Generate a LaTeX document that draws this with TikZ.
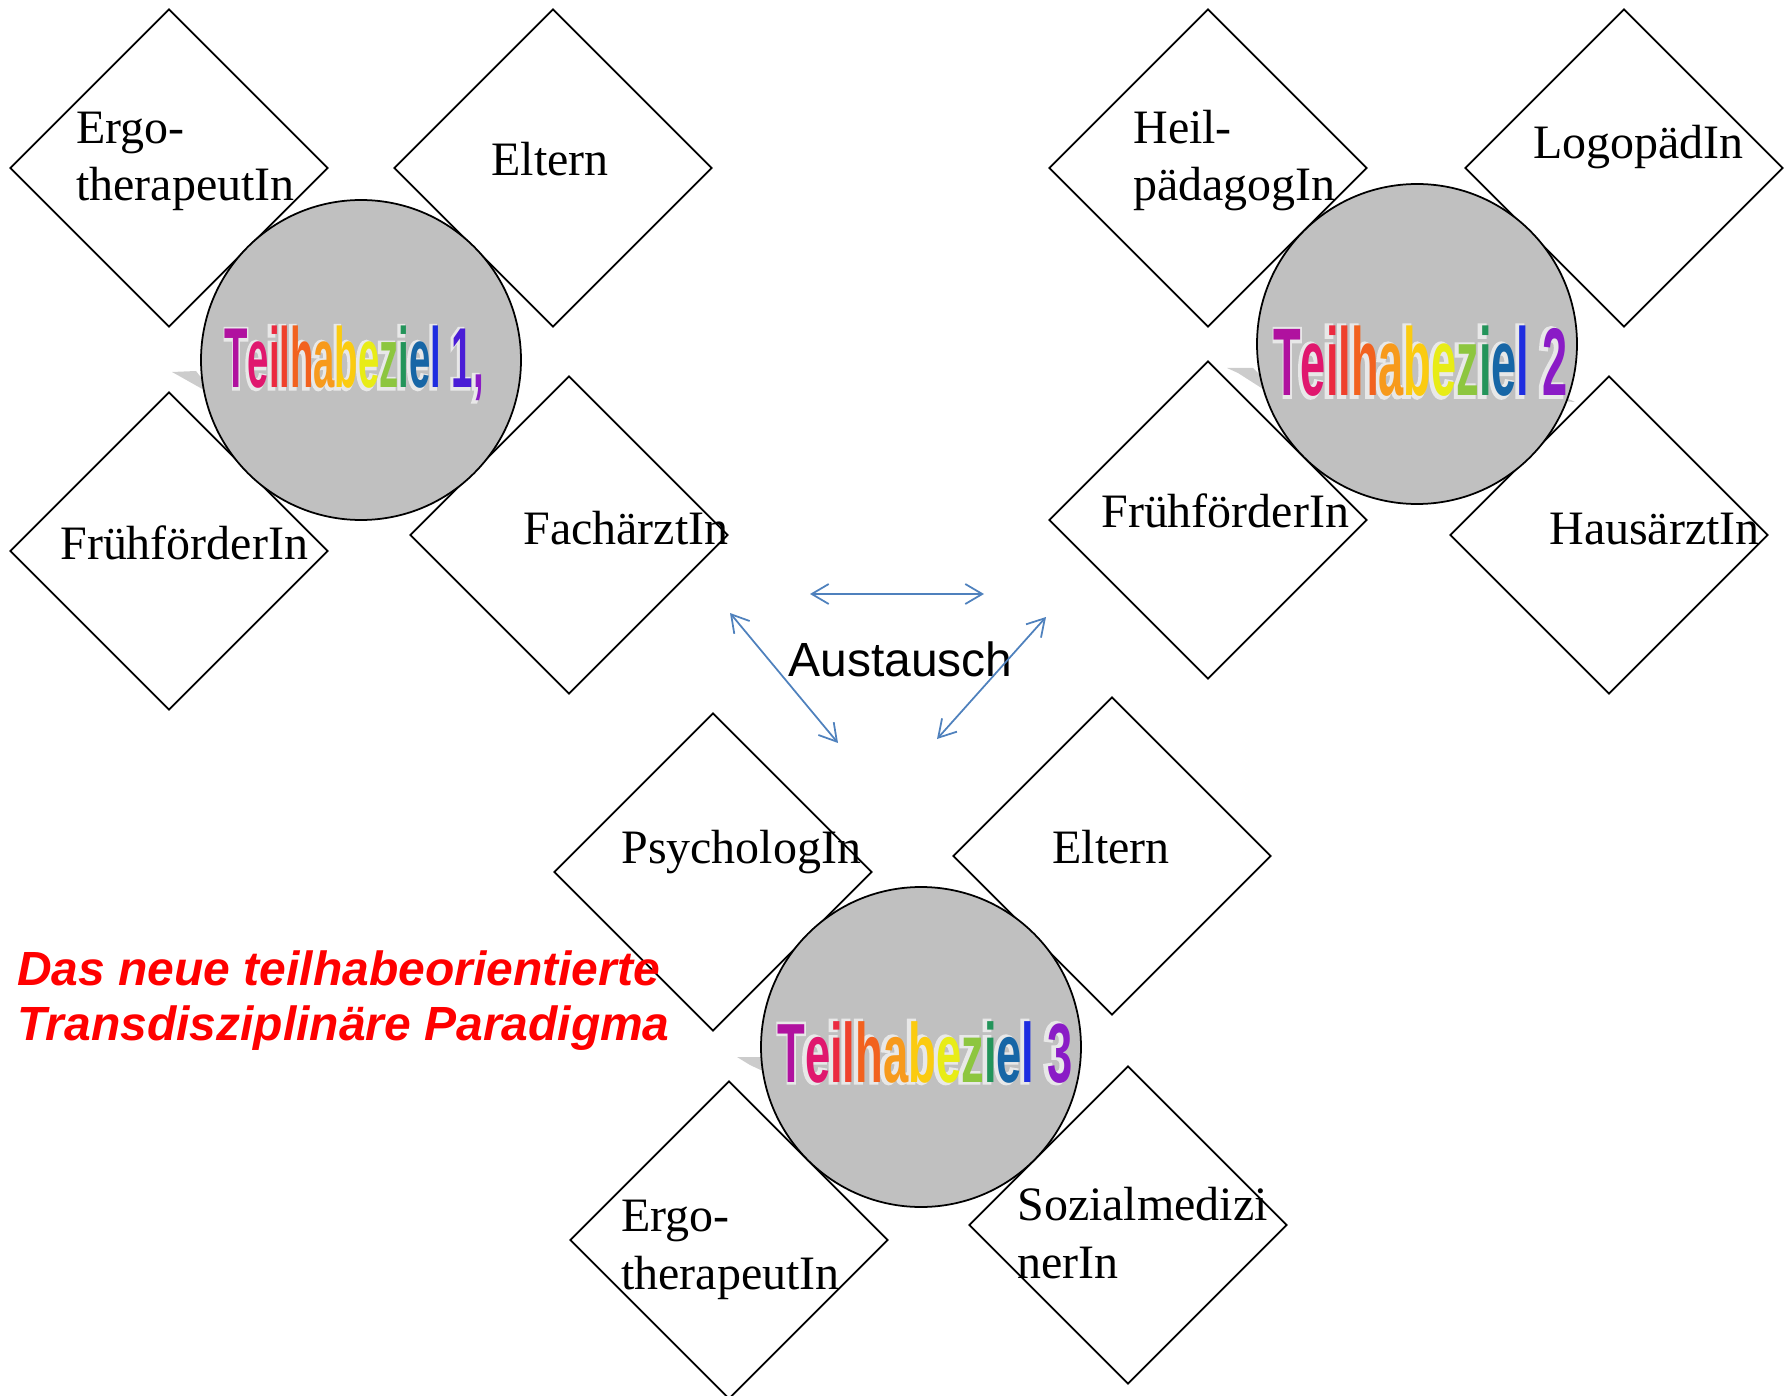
\documentclass[tikz,border=0pt]{standalone}
\usepackage{fontspec}
\setmainfont{Liberation Serif}
\setsansfont{Liberation Sans}
\newfontface\halofont[FakeBold=6]{Liberation Sans Bold}
\usepackage{graphicx}
\usepackage{tikz}
\usetikzlibrary{arrows.meta}
\usetikzlibrary{shapes.geometric}

\definecolor{goalgray}{HTML}{C0C0C0}
\definecolor{tailgray}{HTML}{CCCCCC}
\definecolor{halogray}{HTML}{E8E8E8}
\definecolor{xchblue}{HTML}{4F81BD}
\definecolor{rbA}{HTML}{B0119F}
\definecolor{rbB}{HTML}{E0176E}
\definecolor{rbC}{HTML}{EB2A40}
\definecolor{rbD}{HTML}{EF412C}
\definecolor{rbE}{HTML}{F2621F}
\definecolor{rbF}{HTML}{F79A1C}
\definecolor{rbG}{HTML}{FBCB10}
\definecolor{rbH}{HTML}{E8EC16}
\definecolor{rbI}{HTML}{8DC63F}
\definecolor{rbJ}{HTML}{23945A}
\definecolor{rbK}{HTML}{1766A6}
\definecolor{rbL}{HTML}{1E2DE0}
\definecolor{rbM}{HTML}{4A1DD6}
\definecolor{rbN}{HTML}{8A1BC6}

\newif\ifhalo
\newcommand{\rb}[2]{\ifhalo#2\else\textcolor{#1}{#2}\fi}
\newcommand{\goalword}{\rb{rbA}{T}\rb{rbB}{e}\rb{rbC}{i}\rb{rbD}{l}\rb{rbE}{h}\rb{rbF}{a}%
  \rb{rbG}{b}\rb{rbH}{e}\rb{rbI}{z}\rb{rbJ}{i}\rb{rbK}{e}\rb{rbL}{l}}
% #1 name, #2 base point, #3 size, #4 squeeze, #5 text
\newcommand{\goal}[5]{%
  \node[anchor=base west, inner sep=0pt, text=halogray,
    font=\fontsize{#3}{#3}\halofont]
    at (#2) {\halotrue\scalebox{#4}[1]{#5}};
  \node[anchor=base west, inner sep=0pt,
    font=\fontsize{#3}{#3}\selectfont\sffamily\bfseries]
    (#1) at (#2) {\scalebox{#4}[1]{#5}};
}

\begin{document}
\begin{tikzpicture}
\useasboundingbox (0,0) rectangle (35.7,-27.92);

\tikzstyle{role}=[diamond, draw, line width=1pt, inner sep=0pt,
    minimum width=6.36cm, minimum height=6.36cm]
\tikzstyle{roletext}=[anchor=base west, align=left, inner sep=0pt,
    font=\fontsize{27.3}{33}\selectfont]
\tikzstyle{hub}=[circle, draw, fill=goalgray, line width=1pt,
    minimum size=6.4cm, inner sep=0pt]
\tikzstyle{xch}=[draw=xchblue, line width=1pt, <->,
    >={Straight Barb[length=0.34cm,width=0.4cm]}]

% goal 1
\node[role] (ergoA) at (3.38,-3.36) {};
\node[role] (elternA) at (11.06,-3.36) {};
\node[role] (fruehA) at (3.38,-11.02) {};
\node[role] (fach) at (11.38,-10.70) {};
% goal 2
\node[role] (heil) at (24.16,-3.36) {};
\node[role] (logo) at (32.48,-3.36) {};
\node[role] (fruehB) at (24.16,-10.40) {};
\node[role] (haus) at (32.18,-10.70) {};
% goal 3
\node[role] (psych) at (14.26,-17.44) {};
\node[role] (elternC) at (22.24,-17.12) {};
\node[role] (ergoC) at (14.58,-24.80) {};
\node[role] (sozial) at (22.56,-24.50) {};

% tails
\fill[tailgray] (3.44,-7.44) -- (3.92,-7.42) -- (4.06,-7.60) -- (4.08,-7.80) -- (3.62,-7.54) -- cycle;
\fill[tailgray] (24.54,-7.36) -- (25.06,-7.36) -- (25.24,-7.54) -- (25.26,-7.78) -- (24.76,-7.46) -- cycle;
\fill[tailgray] (31.20,-7.90) -- (31.50,-8.04) -- (31.20,-8.02) -- cycle;
\fill[tailgray] (14.74,-21.14) -- (15.20,-21.14) -- (15.30,-21.26) -- (15.30,-21.44) -- (15.00,-21.30) -- cycle;

\node[hub] (hubA) at (7.22,-7.20) {};
\node[hub] (hubB) at (28.34,-6.88) {};
\node[hub] (hubC) at (18.42,-20.94) {};

\node[roletext] (ergoAt) at (1.52,-4.02) {Ergo-\\therapeutIn};
\node[roletext] (elternAt) at (9.82,-3.52) {Eltern};
\node[roletext] (fruehAt) at (1.20,-11.18) {FrühförderIn};
\node[roletext] (facht) at (10.46,-10.88) {FachärztIn};
\node[roletext] (heilt) at (22.66,-4.02) {Heil-\\pädagogIn};
\node[roletext] (logot) at (30.66,-3.18) {LogopädIn};
\node[roletext] (fruehBt) at (22.02,-10.56) {FrühförderIn};
\node[roletext] (haust) at (30.98,-10.88) {HausärztIn};
\node[roletext] (psycht) at (12.42,-17.26) {PsychologIn};
\node[roletext] (elternCt) at (21.04,-17.26) {Eltern};
\node[roletext] (ergoCt) at (12.42,-25.78) {Ergo-\\therapeutIn};
\node[roletext] (sozialt) at (20.34,-25.56) {Sozialmedizi\\nerIn};

\goal{goalA}{4.48,-7.76}{48.4}{0.45}{\goalword\ \rb{rbM}{1}\rb{rbN}{,}}
\goal{goalB}{25.46,-7.92}{54.7}{0.47}{\goalword\ \rb{rbN}{2}}
\goal{goalC}{15.54,-21.64}{47.8}{0.54}{\goalword\ \rb{rbN}{3}}

\node[anchor=base west, inner sep=0pt, font=\fontsize{27.3}{33}\selectfont\sffamily]
    (austausch) at (15.76,-13.52) {Austausch};
\node[anchor=base west, align=left, inner sep=0pt, text=red,
    font=\fontsize{27.3}{31.3}\selectfont\sffamily\bfseries\itshape]
    (paradigma) at (0.34,-20.80) {Das neue teilhabeorientierte\\Transdisziplinäre Paradigma};

\coordinate (x1) at (16.20,-11.88);
\coordinate (x2) at (19.68,-11.88);
\coordinate (x3) at (14.60,-12.26);
\coordinate (x4) at (16.76,-14.86);
\coordinate (x5) at (20.92,-12.34);
\coordinate (x6) at (18.74,-14.78);
\draw[xch] (x1) -- (x2);
\draw[xch] (x3) -- (x4);
\draw[xch] (x5) -- (x6);
\end{tikzpicture}
\end{document}
